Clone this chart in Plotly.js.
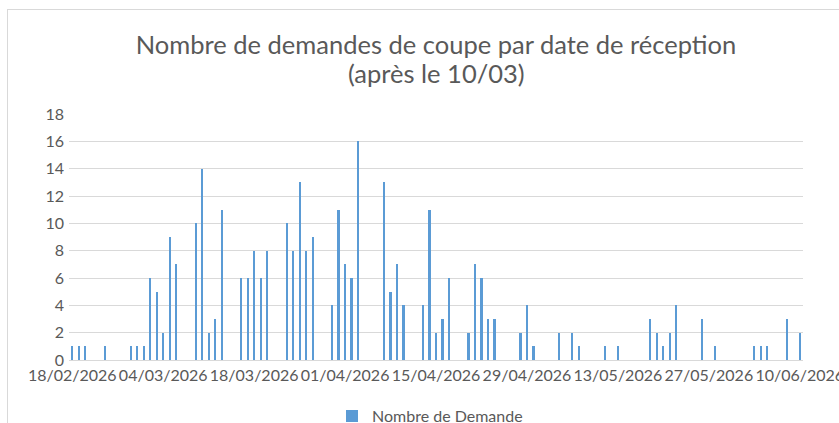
<!DOCTYPE html>
<html>
<head>
<meta charset="utf-8">
<script src="https://cdn.plot.ly/plotly-3.0.1.min.js"></script>
<style>
html,body{margin:0;padding:0;background:#fff;}
#chart{width:839px;height:423px;position:relative;}
#frame{position:absolute;left:7px;top:9px;width:900px;height:500px;border:1px solid #d9d9d9;pointer-events:none;}
</style>
</head>
<body>
<div id="chart"></div>
<div id="frame"></div>
<script>
// Dates de réception and number of requests
const dates = [
  '2026-02-18','2026-02-19','2026-02-20','2026-02-23','2026-02-27','2026-02-28','2026-03-01',
  '2026-03-02','2026-03-03','2026-03-04','2026-03-05','2026-03-06',
  '2026-03-09','2026-03-10','2026-03-11','2026-03-12','2026-03-13',
  '2026-03-16','2026-03-17','2026-03-18','2026-03-19','2026-03-20',
  '2026-03-23','2026-03-24','2026-03-25','2026-03-26','2026-03-27',
  '2026-03-30','2026-03-31','2026-04-01','2026-04-02','2026-04-03',
  '2026-04-07','2026-04-08','2026-04-09','2026-04-10',
  '2026-04-13','2026-04-14','2026-04-15','2026-04-16','2026-04-17',
  '2026-04-20','2026-04-21','2026-04-22','2026-04-23','2026-04-24',
  '2026-04-28','2026-04-29','2026-04-30',
  '2026-05-04','2026-05-06','2026-05-07',
  '2026-05-11','2026-05-13',
  '2026-05-18','2026-05-19','2026-05-20','2026-05-21','2026-05-22',
  '2026-05-26','2026-05-28',
  '2026-06-03','2026-06-04','2026-06-05','2026-06-08','2026-06-10'
];
const demandes = [
  1,1,1,1,1,1,1,
  6,5,2,9,7,
  10,14,2,3,11,
  6,6,8,6,8,
  10,8,13,8,9,
  4,11,7,6,16,
  13,5,7,4,
  4,11,2,3,6,
  2,7,6,3,3,
  2,4,1,
  2,2,1,
  1,1,
  3,2,1,2,4,
  3,1,
  1,1,1,3,2
];
const seriesName = 'Nombre de Demande';
const titleLine1 = 'Nombre de demandes de coupe par date de réception';
const titleLine2 = '(après le 10/03)';
const yTicks = [0,2,4,6,8,10,12,14,16,18];

const DAY = 86400000;
const FONT = 'Lato, "Open Sans", sans-serif';
const trace = {
  type: 'bar',
  x: dates,
  y: demandes,
  name: seriesName,
  width: dates.map(() => 0.33 * DAY),
  marker: {color: '#5b9bd5'},
  showlegend: true
};

const layout = {
  width: 839,
  height: 423,
  paper_bgcolor: '#ffffff',
  plot_bgcolor: '#ffffff',
  font: {family: FONT, color: '#595959'},
  margin: {l: 69, r: 36, t: 114, b: 63, autoexpand: false},
  title: {
    text: titleLine1,
    font: {size: 25.5, color: '#595959', family: FONT},
    x: 0.5, xref: 'paper', xanchor: 'center',
    y: 1 - 45 / 423, yref: 'container', yanchor: 'middle'
  },
  annotations: [{
    text: titleLine2,
    xref: 'paper', x: 0.5, xanchor: 'center',
    yref: 'paper', y: (360 - 73) / 246, yanchor: 'middle',
    showarrow: false,
    font: {size: 25.5, color: '#595959', family: FONT}
  }],
  xaxis: {
    type: 'date',
    range: ['2026-02-17 12:00', '2026-06-10 12:00'],
    tick0: '2026-02-18',
    dtick: 14 * DAY,
    tickformat: '%d/%m/%Y',
    ticks: '',
    showgrid: false,
    showline: true,
    linecolor: '#d9d9d9',
    linewidth: 1,
    ticklabeloverflow: 'allow',
    ticklabelstandoff: 1,
    tickfont: {size: 16, color: '#595959'},
    fixedrange: true
  },
  yaxis: {
    range: [0, 18],
    tickvals: yTicks,
    ticks: '',
    showgrid: true,
    gridcolor: '#d9d9d9',
    gridwidth: 1,
    zeroline: false,
    showline: false,
    tickfont: {size: 16, color: '#595959'},
    ticklabelstandoff: 4,
    fixedrange: true
  },
  legend: {
    orientation: 'h',
    x: 0.5 - 6 / 734, xanchor: 'center',
    y: -0.228, yanchor: 'middle',
    font: {size: 16, color: '#595959'},
    itemwidth: 30
  },
  bargap: 0
};

Plotly.newPlot('chart', [trace], layout, {displayModeBar: false, staticPlot: true});
</script>
</body>
</html>
